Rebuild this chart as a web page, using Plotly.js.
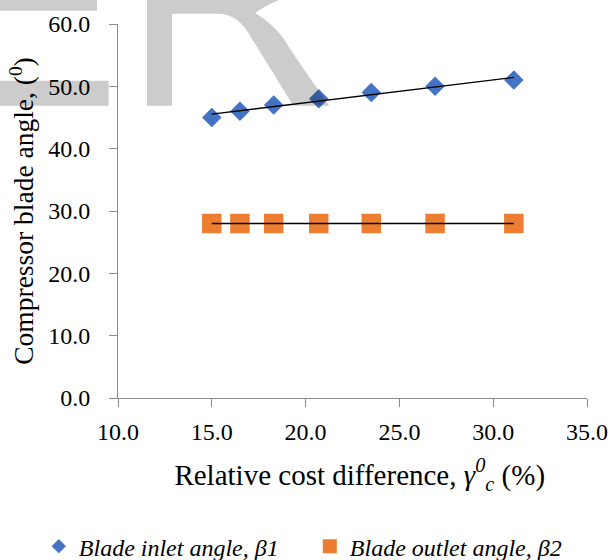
<!DOCTYPE html>
<html>
<head>
<meta charset="utf-8">
<script src="https://cdn.plot.ly/plotly-3.0.1.min.js"></script>
<style>html,body{margin:0;padding:0;background:#fff;}#chart{width:610px;height:560px;}</style>
</head>
<body>
<div id="chart"></div>
<script>
// ---- data ----
var costDiff = [15.0, 16.5, 18.3, 20.7, 23.5, 26.9, 31.1];
var inletAngle = [45.0, 46.0, 47.0, 48.0, 49.0, 50.0, 51.0];
var outletAngle = [28.0, 28.0, 28.0, 28.0, 28.0, 28.0, 28.0];
var seriesNames = ['Blade inlet angle, \u03B21', 'Blade outlet angle, \u03B22'];
var xTicks = [10, 15, 20, 25, 30, 35];
var yTicks = [0, 10, 20, 30, 40, 50, 60];

// least-squares linear trendline
function trend(xs, ys) {
  var n = xs.length, mx = 0, my = 0;
  for (var i = 0; i < n; i++) { mx += xs[i]; my += ys[i]; }
  mx /= n; my /= n;
  var sxy = 0, sxx = 0;
  for (i = 0; i < n; i++) { sxy += (xs[i]-mx)*(ys[i]-my); sxx += (xs[i]-mx)*(xs[i]-mx); }
  var b = sxy / sxx, a = my - b*mx;
  var x0 = Math.min.apply(null, xs), x1 = Math.max.apply(null, xs);
  return {x: [x0, x1], y: [a + b*x0, a + b*x1]};
}
var t1 = trend(costDiff, inletAngle), t2 = trend(costDiff, outletAngle);

var BLUE = '#4472C4', ORANGE = '#ED7D31', AX = '#8c8c8c';
var FONT = "'Liberation Serif', 'DejaVu Serif'";
// invisible trailing pad to push y tick labels away from the axis
var YPAD = '<span style="font-size:14px;color:rgba(0,0,0,0)">00</span>';

var traces = [
  {x: costDiff, y: inletAngle, mode: 'markers', type: 'scatter', showlegend: false,
   marker: {symbol: 'diamond', size: 15, color: BLUE}},
  {x: costDiff, y: outletAngle, mode: 'markers', type: 'scatter', showlegend: false,
   marker: {symbol: 'square', size: 19.5, color: ORANGE}},
  {x: t1.x, y: t1.y, mode: 'lines', type: 'scatter', showlegend: false,
   line: {color: '#000', width: 1.4}},
  {x: t2.x, y: t2.y, mode: 'lines', type: 'scatter', showlegend: false,
   line: {color: '#000', width: 1.6}},
  // legend entries
  {x: [null], y: [null], mode: 'markers', type: 'scatter', name: seriesNames[0],
   marker: {symbol: 'diamond', size: 11, color: BLUE}},
  {x: [null], y: [null], mode: 'markers', type: 'scatter', name: seriesNames[1],
   marker: {symbol: 'square', size: 14, color: ORANGE}}
];

// watermark geometry (pixel -> paper)
var L = 117.7, T = 24.3, W = 469, H = 373.4;
function px(x) { return ((x - L) / W).toFixed(4); }
function py(y) { return ((T + H - y) / H).toFixed(4); }
function P(x, y) { return px(x) + ',' + py(y); }
var rPath = 'M' + P(146.7,-3) + ' L' + P(287,-3) + ' Q' + P(266,5) + ' ' + P(255,13.3) +
  ' Q' + P(272,24) + ' ' + P(282,37) + ' L' + P(297,60) + ' L' + P(329,106) +
  ' L' + P(293,106) + ' L' + P(248,33) + ' Q' + P(236,14) + ' ' + P(218,14) +
  ' L' + P(171.7,14) + ' L' + P(171.7,106) + ' L' + P(146.7,106) + ' Z';

var shapes = [
  {type: 'path', xref: 'paper', yref: 'paper', path: rPath, fillcolor: '#000', opacity: 0.2, line: {width: 0}, layer: 'above'},
  {type: 'rect', xref: 'paper', yref: 'paper', x0: px(-3), x1: px(96.7), y0: py(-3), y1: py(11), fillcolor: '#000', opacity: 0.2, line: {width: 0}, layer: 'above'},
  {type: 'rect', xref: 'paper', yref: 'paper', x0: px(-3), x1: px(108.3), y0: py(81), y1: py(106), fillcolor: '#000', opacity: 0.2, line: {width: 0}, layer: 'above'}
];

var layout = {
  width: 610, height: 560,
  margin: {l: 117.7, r: 23.3, t: 24.3, b: 162.3, autoexpand: false},
  paper_bgcolor: '#fff', plot_bgcolor: '#fff',
  font: {family: FONT, size: 24, color: '#000'},
  showlegend: true,
  xaxis: {
    range: [10, 35], tickvals: xTicks, ticktext: xTicks.map(function(v){return v.toFixed(1);}),
    showgrid: false, zeroline: false, showline: true, linecolor: AX, linewidth: 1,
    ticks: 'outside', ticklen: 8, tickcolor: AX, tickwidth: 1, ticklabelstandoff: 4,
    tickfont: {family: FONT, size: 24, color: '#000'},
    title: {text: '&#160;&#160;Relative cost difference, <i>\u03B3</i><sup><i>0</i></sup><sub><i>c</i></sub> (%)',
            font: {family: FONT, size: 29, color: '#000'}, standoff: 20}
  },
  yaxis: {
    range: [0, 60], tickvals: yTicks, ticktext: yTicks.map(function(v){return v.toFixed(1) + YPAD;}),
    showgrid: false, zeroline: false, showline: true, linecolor: AX, linewidth: 1,
    ticks: 'outside', ticklen: 8, tickcolor: AX, tickwidth: 1,
    tickfont: {family: FONT, size: 24, color: '#000'},
    title: {text: 'Compressor blade angle, (<sup>0</sup>)',
            font: {family: FONT, size: 27.5, color: '#000'}, standoff: 6}
  },
  legend: {
    orientation: 'h', x: (38.5 - L) / W, xanchor: 'left', y: (T + H - 546) / H, yanchor: 'middle',
    font: {family: FONT, size: 24, color: '#000', style: 'italic'},
    entrywidth: 226, entrywidthmode: 'pixels', bgcolor: 'rgba(0,0,0,0)', borderwidth: 0
  },
  shapes: shapes
};

Plotly.newPlot('chart', traces, layout, {displayModeBar: false, staticPlot: true});
</script>
</body>
</html>
